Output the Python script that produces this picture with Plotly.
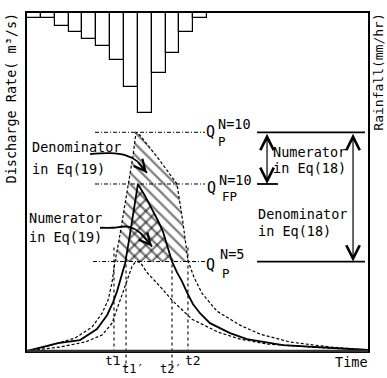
import plotly.graph_objects as go

# ---------------- data ----------------
rain_time = [0.5, 1.5, 2.5, 3.5, 4.5, 5.5, 6.5, 7.5, 8.5, 9.5, 10.5, 11.5, 12.5]
rainfall = [5, 5, 13, 19, 26, 33, 47, 74, 101, 60, 40, 19, 5]

# hydrograph giving the N=10 peak (upper dashed)
qa_time = [0.00, 1.30, 3.47, 4.69, 5.42, 5.85, 6.14, 6.35, 6.64, 6.86, 7.08, 7.29, 7.65, 7.87,
           8.16, 9.46, 10.83, 11.26, 11.62, 12.06, 12.64, 13.72, 15.38, 16.82, 18.99, 21.88, 24.62]
qa_flow = [0, 4, 13, 24, 38, 51, 69, 90, 111, 129, 146, 164, 196, 220,
           217, 194, 168, 129, 91, 74, 58, 40, 26, 17, 9, 4, 1]

# hydrograph giving Q_FP (solid)
qb_time = [0.00, 2.24, 3.83, 5.05, 5.78, 6.21, 6.50, 6.79, 7.08, 7.36, 7.65, 7.87, 8.01,
           8.52, 9.03, 9.46, 9.82, 10.18, 10.47, 10.83, 11.19, 11.55, 11.99, 12.49, 13.21,
           14.66, 15.88, 18.48, 20.94, 24.62]
qb_flow = [0, 8, 11, 22, 36, 49, 60, 73, 88, 111, 138, 155, 168,
           156, 143, 131, 120, 104, 90, 79, 70, 59, 47, 38, 28,
           18, 12, 6, 4, 1]

# hydrograph giving the N=5 peak (lower dashed)
qc_time = [0.00, 2.38, 4.19, 5.42, 6.14, 6.57, 6.93, 7.29, 7.58, 7.80, 8.01,
           8.23, 8.66, 9.60, 10.47, 11.91, 13.79, 15.38, 17.33, 20.43, 24.62]
qc_flow = [0, 4, 9, 16, 28, 45, 60, 75, 85, 89, 90,
           88, 79, 65, 51, 32, 19, 12, 7, 4, 1]

Q_P10 = 220
Q_FP10 = 168
Q_P5 = 90
t1, t1p, t2p, t2 = 6.28, 7.15, 10.47, 11.62

X_MAX = 24.62
Y_MAX = 340

# ---------------- layout helpers ----------------
W, H = 387, 378
L, R, T, B = 27, 19, 11, 27
PW, PH = W - L - R, H - T - B


def P(px, py):
    return (px - L) / PW, (H - B - py) / PH


FONT = "DejaVu Sans Mono"
fig = go.Figure()

# hatched areas
ha = [(t, q) for t, q in zip(qa_time, qa_flow) if q >= Q_P5]
fig.add_trace(go.Scatter(
    x=[p[0] for p in ha] + [ha[-1][0], ha[0][0]],
    y=[p[1] for p in ha] + [Q_P5, Q_P5],
    mode="lines", line=dict(width=0), fill="toself",
    fillcolor="rgba(0,0,0,0)",
    fillpattern=dict(shape="\\", size=8, solidity=0.28, fgcolor="black",
                     bgcolor="rgba(0,0,0,0)"),
    hoverinfo="skip", showlegend=False))
hb = [(t, q) for t, q in zip(qb_time, qb_flow) if q > Q_P5]
fig.add_trace(go.Scatter(
    x=[t1p] + [p[0] for p in hb] + [t2p, t1p],
    y=[Q_P5] + [p[1] for p in hb] + [Q_P5, Q_P5],
    mode="lines", line=dict(width=0), fill="toself",
    fillcolor="rgba(0,0,0,0)",
    fillpattern=dict(shape="/", size=8, solidity=0.28, fgcolor="black",
                     bgcolor="rgba(0,0,0,0)"),
    hoverinfo="skip", showlegend=False))

# hydrographs
fig.add_trace(go.Scatter(x=qa_time, y=qa_flow, mode="lines",
                         line=dict(color="black", width=1.2, dash="3px,2px"), showlegend=False))
fig.add_trace(go.Scatter(x=qc_time, y=qc_flow, mode="lines",
                         line=dict(color="black", width=1.2, dash="3px,2px"), showlegend=False))
fig.add_trace(go.Scatter(x=qb_time, y=qb_flow, mode="lines",
                         line=dict(color="black", width=1.8), showlegend=False))

# curved arrows for Eq(19)
arr_den19 = ([4.55, 5.99, 7.08, 7.94, 8.66], [198, 199, 197, 191, 179])
arr_num19 = ([5.27, 6.21, 7.29, 8.16, 9.03], [124, 124, 125, 119, 105])
for ax_, ay_ in (arr_den19, arr_num19):
    fig.add_trace(go.Scatter(x=ax_, y=ay_, mode="lines",
                             line=dict(color="black", width=1.8, shape="spline"),
                             showlegend=False, hoverinfo="skip"))

# rainfall bars
fig.add_trace(go.Bar(x=rain_time, y=rainfall, width=1, yaxis="y2",
                     marker=dict(color="white", line=dict(color="black", width=1.2)),
                     showlegend=False))

shapes = []
# dash-dot levels
for q, x0 in ((Q_P10, 4.91), (Q_FP10, 4.91), (Q_P5, 4.77)):
    shapes.append(dict(type="line", xref="x", yref="y", x0=x0, x1=12.85, y0=q, y1=q,
                       line=dict(color="black", width=1, dash="4px,2px,1px,2px")))
# solid reference lines on the right
for q, x1 in ((Q_P10, 24.40), (Q_FP10, 18.12), (Q_P5, 24.40)):
    shapes.append(dict(type="line", xref="x", yref="y", x0=16.61, x1=x1, y0=q, y1=q,
                       line=dict(color="black", width=1.8)))
# vertical time markers
for t, ytop, ybot in ((t1, 247, 357), (t1p, 258, 368), (t2p, 258, 368), (t2, 247, 357)):
    xp = t / X_MAX
    shapes.append(dict(type="line", xref="paper", yref="paper", x0=xp, x1=xp,
                       y0=P(0, ytop)[1], y1=P(0, ybot)[1],
                       line=dict(color="black", width=1.1, dash="dot")))
# thick bottom axis
shapes.append(dict(type="line", xref="paper", yref="paper", x0=0, x1=1, y0=0, y1=0,
                   line=dict(color="#333", width=2.5)))

ann = []


def txt(s, px, py, size=13.5, xanchor="center", angle=0):
    x, y = P(px, py)
    ann.append(dict(text=s, x=x, y=y, xref="paper", yref="paper", showarrow=False,
                    xanchor=xanchor, yanchor="middle", textangle=angle,
                    font=dict(family=FONT, size=size, color="black")))


txt("Discharge Rate( m³/s)", 11, 97, angle=-90)
txt("Rainfall(mm/hr)", 379, 71, size=13, angle=-90)
txt("Time", 351, 362)
txt("Denominator", 30, 146, xanchor="left")
txt("in Eq(19)", 30, 168, xanchor="left")
txt("Numerator", 27, 217, xanchor="left")
txt("in Eq(19)", 27, 236, xanchor="left")
txt("Numerator", 271, 151, xanchor="left")
txt("in Eq(18)", 271, 167, xanchor="left")
txt("Denominator", 256, 213, xanchor="left")
txt("in Eq(18)", 256, 230, xanchor="left")
# Q labels
txt("Q", 210, 131, size=15)
txt("N=10", 216, 123, size=13.5, xanchor="left")
txt("P", 216, 140, size=12.5, xanchor="left")
txt("Q", 211, 187, size=15)
txt("N=10", 217, 179, size=13.5, xanchor="left")
txt("FP", 220, 196, size=12.5, xanchor="left")
txt("Q", 210, 264, size=15)
txt("N=5", 218, 253, size=13.5, xanchor="left")
txt("P", 220, 273, size=12.5, xanchor="left")
# time labels
txt("t1", 113, 361, size=13)
txt("t2", 193, 361, size=13)
txt("t1′", 133, 369, size=12)
txt("t2′", 171, 369, size=12)

# double arrows Eq(18)
for xa, y0, y1 in ((17.33, Q_P10, Q_FP10), (23.54, Q_P10, Q_P5)):
    ann.append(dict(x=xa, y=y1, ax=xa, ay=y0, xref="x", yref="y", axref="x", ayref="y",
                    text="", showarrow=True, arrowhead=5, arrowsize=2.2, arrowwidth=1.2,
                    arrowside="end+start", startarrowhead=5, startarrowsize=2.2,
                    arrowcolor="black", standoff=0, startstandoff=0))
# heads for curved arrows
for ax_, ay_ in (arr_den19, arr_num19):
    ann.append(dict(x=ax_[-1], y=ay_[-1], ax=ax_[-2], ay=ay_[-2], xref="x", yref="y",
                    axref="x", ayref="y", text="", showarrow=True, arrowhead=5,
                    arrowsize=1.4, arrowwidth=1.6, arrowcolor="black", standoff=0))

fig.update_layout(
    width=W, height=H, margin=dict(l=L, r=R, t=T, b=B),
    paper_bgcolor="white", plot_bgcolor="white",
    xaxis=dict(range=[0, X_MAX], showticklabels=False, ticks="", showgrid=False,
               zeroline=False, showline=True, mirror=True, linecolor="black", linewidth=1.5),
    yaxis=dict(range=[0, Y_MAX], showticklabels=False, ticks="", showgrid=False,
               zeroline=False, showline=True, mirror=True, linecolor="black", linewidth=1.5),
    yaxis2=dict(range=[Y_MAX, 0], overlaying="y", side="right", showticklabels=False,
                ticks="", showgrid=False, zeroline=False, showline=False),
    shapes=shapes, annotations=ann, bargap=0, showlegend=False,
)

fig.write_html("out.html", config={"displayModeBar": False},
               post_script="document.body.style.margin='0';document.body.style.overflow='hidden';")
